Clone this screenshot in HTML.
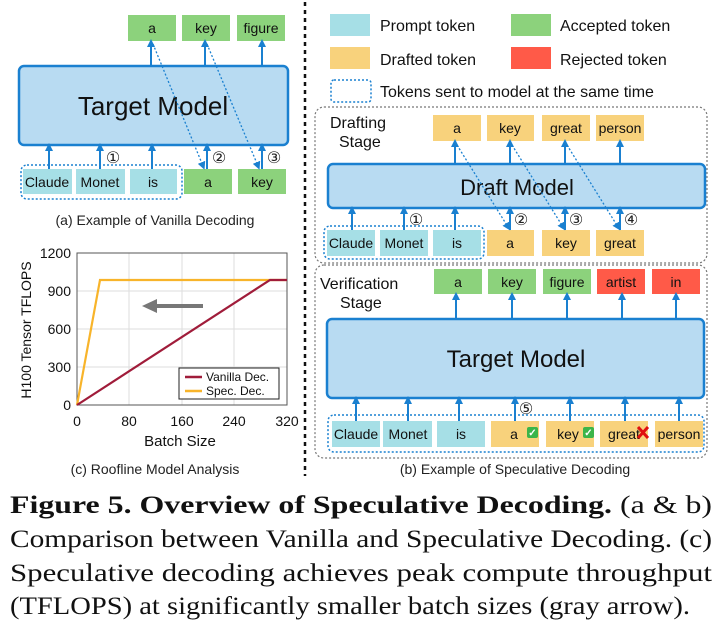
<!DOCTYPE html>
<html><head><meta charset="utf-8"><style>body{margin:0;background:#fff}svg{display:block}</style></head><body>
<svg width="727" height="633" viewBox="0 0 727 633" xmlns="http://www.w3.org/2000/svg" font-family="Liberation Sans, sans-serif">
<defs>
<marker id="ah" markerWidth="8" markerHeight="8" refX="4" refY="4" orient="auto" markerUnits="userSpaceOnUse"><path d="M0,0 L8,4 L0,8 Z" fill="#1a80d0"/></marker>
</defs>
<style>
.p{fill:#a6dfe6}.g{fill:#8cd27c}.d{fill:#f8d27c}.r{fill:#ff5a48}
.t{font-size:14px;text-anchor:middle;fill:#111}
.m{fill:#b8dbf2;stroke:#1a80d0;stroke-width:2.5}
.ar{stroke:#1a80d0;stroke-width:2;marker-end:url(#ah)}
.dg{stroke:#1a80d0;stroke-width:1.3;stroke-dasharray:2 2;fill:none;marker-end:url(#ah)}
.gr{fill:none;stroke:#1a80d0;stroke-width:1.5;stroke-dasharray:2 2}
.st{fill:none;stroke:#777;stroke-width:1.2;stroke-dasharray:2 2}
.c{font-size:16px;fill:#222;font-family:"DejaVu Sans",sans-serif}
</style>

<!-- ===== (a) Vanilla ===== -->
<rect class="g" x="128" y="15" width="48" height="26"/><text class="t" x="152" y="33">a</text>
<rect class="g" x="182" y="15" width="48" height="26"/><text class="t" x="206" y="33">key</text>
<rect class="g" x="237" y="15" width="48" height="26"/><text class="t" x="261" y="33">figure</text>
<rect class="m" x="19" y="66" width="269" height="79" rx="5"/>
<text x="153" y="115" font-size="26" text-anchor="middle" fill="#111">Target Model</text>
<rect class="gr" x="21" y="165" width="161" height="34" rx="6"/>
<rect class="p" x="23" y="169" width="49" height="25"/><text class="t" x="47" y="187">Claude</text>
<rect class="p" x="76" y="169" width="49" height="25"/><text class="t" x="100" y="187">Monet</text>
<rect class="p" x="130" y="169" width="47" height="25"/><text class="t" x="153" y="187">is</text>
<rect class="g" x="184" y="169" width="48" height="25"/><text class="t" x="208" y="187">a</text>
<rect class="g" x="238" y="169" width="48" height="25"/><text class="t" x="262" y="187">key</text>
<line class="ar" x1="49" y1="169" x2="49" y2="147"/>
<line class="ar" x1="100" y1="169" x2="100" y2="147"/>
<line class="ar" x1="152" y1="169" x2="152" y2="147"/>
<line class="ar" x1="207" y1="169" x2="207" y2="147"/>
<line class="ar" x1="262" y1="169" x2="262" y2="147"/>
<line class="ar" x1="151" y1="66" x2="151" y2="43"/>
<line class="ar" x1="205" y1="66" x2="205" y2="43"/>
<line class="ar" x1="262" y1="66" x2="262" y2="43"/>
<line class="dg" x1="153" y1="44" x2="203" y2="166"/>
<line class="dg" x1="207" y1="44" x2="258" y2="166"/>
<text class="c" x="113" y="163" text-anchor="middle">①</text>
<text class="c" x="219" y="163" text-anchor="middle">②</text>
<text class="c" x="274" y="163" text-anchor="middle">③</text>
<text x="155" y="225" font-size="14" text-anchor="middle" fill="#222">(a) Example of Vanilla Decoding</text>

<!-- divider -->
<line x1="305" y1="2" x2="305" y2="476" stroke="#111" stroke-width="2.5" stroke-dasharray="4 4"/>

<!-- legend -->
<rect class="p" x="330" y="14" width="40" height="22"/><text x="380" y="31" font-size="16" fill="#111">Prompt token</text>
<rect class="g" x="511" y="14" width="40" height="22"/><text x="560" y="31" font-size="16" fill="#111">Accepted token</text>
<rect class="d" x="330" y="47" width="40" height="22"/><text x="380" y="65" font-size="16" fill="#111">Drafted token</text>
<rect class="r" x="511" y="47" width="40" height="22"/><text x="560" y="65" font-size="16" fill="#111">Rejected token</text>
<rect class="gr" x="331" y="80" width="40" height="22" rx="3"/><text x="380" y="97" font-size="16" fill="#111">Tokens sent to model at the same time</text>

<!-- drafting stage -->
<rect class="st" x="315" y="107" width="392" height="156" rx="9"/>
<text x="330" y="128" font-size="16" fill="#111">Drafting</text>
<text x="339" y="147" font-size="16" fill="#111">Stage</text>
<rect class="d" x="433" y="115" width="48" height="26"/><text class="t" x="457" y="133">a</text>
<rect class="d" x="487" y="115" width="47" height="26"/><text class="t" x="510" y="133">key</text>
<rect class="d" x="542" y="115" width="48" height="26"/><text class="t" x="566" y="133">great</text>
<rect class="d" x="596" y="115" width="48" height="26"/><text class="t" x="620" y="133">person</text>
<rect class="m" x="328" y="164" width="377" height="44" rx="5"/>
<text x="517" y="195" font-size="22" text-anchor="middle" fill="#111">Draft Model</text>
<rect class="gr" x="324" y="226" width="160" height="33" rx="6"/>
<rect class="p" x="327" y="230" width="48" height="26"/><text class="t" x="351" y="248">Claude</text>
<rect class="p" x="380" y="230" width="48" height="26"/><text class="t" x="404" y="248">Monet</text>
<rect class="p" x="433" y="230" width="48" height="26"/><text class="t" x="457" y="248">is</text>
<rect class="d" x="487" y="230" width="47" height="26"/><text class="t" x="510" y="248">a</text>
<rect class="d" x="542" y="230" width="48" height="26"/><text class="t" x="566" y="248">key</text>
<rect class="d" x="596" y="230" width="48" height="26"/><text class="t" x="620" y="248">great</text>
<line class="ar" x1="352" y1="230" x2="352" y2="210"/>
<line class="ar" x1="404" y1="230" x2="404" y2="210"/>
<line class="ar" x1="455" y1="230" x2="455" y2="210"/>
<line class="ar" x1="510" y1="230" x2="510" y2="210"/>
<line class="ar" x1="565" y1="230" x2="565" y2="210"/>
<line class="ar" x1="620" y1="230" x2="620" y2="210"/>
<line class="ar" x1="455" y1="164" x2="455" y2="143"/>
<line class="ar" x1="510" y1="164" x2="510" y2="143"/>
<line class="ar" x1="565" y1="164" x2="565" y2="143"/>
<line class="ar" x1="620" y1="164" x2="620" y2="143"/>
<line class="dg" x1="457" y1="145" x2="508" y2="227"/>
<line class="dg" x1="512" y1="145" x2="563" y2="227"/>
<line class="dg" x1="567" y1="145" x2="618" y2="227"/>
<text class="c" x="416" y="225" text-anchor="middle">①</text>
<text class="c" x="521" y="225" text-anchor="middle">②</text>
<text class="c" x="576" y="225" text-anchor="middle">③</text>
<text class="c" x="631" y="225" text-anchor="middle">④</text>

<!-- verification stage -->
<rect class="st" x="315" y="265" width="392" height="193" rx="9"/>
<text x="320" y="289" font-size="16" fill="#111">Verification</text>
<text x="340" y="308" font-size="16" fill="#111">Stage</text>
<rect class="g" x="434" y="269" width="48" height="25"/><text class="t" x="458" y="287">a</text>
<rect class="g" x="488" y="269" width="48" height="25"/><text class="t" x="512" y="287">key</text>
<rect class="g" x="543" y="269" width="48" height="25"/><text class="t" x="567" y="287">figure</text>
<rect class="r" x="597" y="269" width="48" height="25"/><text class="t" x="621" y="287">artist</text>
<rect class="r" x="652" y="269" width="48" height="25"/><text class="t" x="676" y="287">in</text>
<rect class="m" x="327" y="319" width="377" height="79" rx="5"/>
<text x="516" y="367" font-size="24" text-anchor="middle" fill="#111">Target Model</text>
<rect class="gr" x="328" y="415" width="376" height="37" rx="6"/>
<rect class="p" x="332" y="421" width="48" height="26"/><text class="t" x="356" y="439">Claude</text>
<rect class="p" x="383" y="421" width="49" height="26"/><text class="t" x="408" y="439">Monet</text>
<rect class="p" x="437" y="421" width="48" height="26"/><text class="t" x="461" y="439">is</text>
<rect class="d" x="491" y="421" width="48" height="26"/><text class="t" x="514" y="439">a</text>
<rect class="d" x="546" y="421" width="48" height="26"/><text class="t" x="568" y="439">key</text>
<rect class="d" x="600" y="421" width="48" height="26"/><text class="t" x="624" y="439">great</text>
<rect class="d" x="655" y="421" width="48" height="26"/><text class="t" x="679" y="439">person</text>
<rect x="527" y="427" width="11" height="11" rx="2" fill="#3bb54a"/><text x="532.5" y="436" font-size="10" fill="#fff" text-anchor="middle" font-weight="bold">✓</text>
<rect x="583" y="427" width="11" height="11" rx="2" fill="#3bb54a"/><text x="588.5" y="436" font-size="10" fill="#fff" text-anchor="middle" font-weight="bold">✓</text>
<path d="M638,427 L648,438 M648,427 L638,438" stroke="#e01010" stroke-width="3"/>
<line class="ar" x1="356" y1="421" x2="356" y2="400"/>
<line class="ar" x1="408" y1="421" x2="408" y2="400"/>
<line class="ar" x1="459" y1="421" x2="459" y2="400"/>
<line class="ar" x1="515" y1="421" x2="515" y2="400"/>
<line class="ar" x1="570" y1="421" x2="570" y2="400"/>
<line class="ar" x1="625" y1="421" x2="625" y2="400"/>
<line class="ar" x1="679" y1="421" x2="679" y2="400"/>
<line class="ar" x1="456" y1="319" x2="456" y2="296"/>
<line class="ar" x1="512" y1="319" x2="512" y2="296"/>
<line class="ar" x1="567" y1="319" x2="567" y2="296"/>
<line class="ar" x1="622" y1="319" x2="622" y2="296"/>
<line class="ar" x1="676" y1="319" x2="676" y2="296"/>
<text class="c" x="526" y="414" text-anchor="middle">⑤</text>
<text x="515" y="474" font-size="14" text-anchor="middle" fill="#222">(b) Example of Speculative Decoding</text>

<!-- ===== (c) chart ===== -->
<g stroke="#ddd" stroke-width="1">
<line x1="77" y1="291" x2="287" y2="291"/><line x1="77" y1="329" x2="287" y2="329"/><line x1="77" y1="367" x2="287" y2="367"/>
<line x1="129" y1="253" x2="129" y2="405"/><line x1="182" y1="253" x2="182" y2="405"/><line x1="234" y1="253" x2="234" y2="405"/>
</g>
<rect x="77" y="253" width="210" height="152" fill="none" stroke="#555" stroke-width="1"/>
<polyline points="77,405 100,280 287,280" fill="none" stroke="#f8b42a" stroke-width="2.2"/>
<polyline points="77,405 270,280 287,280" fill="none" stroke="#a01c3a" stroke-width="2.2"/>
<line x1="203" y1="306" x2="155" y2="306" stroke="#777" stroke-width="4"/>
<path d="M142,306 L157,299 L157,313 Z" fill="#777"/>
<rect x="179" y="368" width="100" height="31" fill="#fff" stroke="#222" stroke-width="1"/>
<line x1="185" y1="377" x2="202" y2="377" stroke="#a01c3a" stroke-width="2.5"/>
<text x="206" y="381" font-size="12" fill="#111">Vanilla Dec.</text>
<line x1="185" y1="391" x2="202" y2="391" stroke="#f8b42a" stroke-width="2.5"/>
<text x="206" y="395" font-size="12" fill="#111">Spec. Dec.</text>
<g font-size="14" fill="#111" text-anchor="end">
<text x="71" y="258">1200</text><text x="71" y="296">900</text><text x="71" y="334">600</text><text x="71" y="372">300</text><text x="71" y="410">0</text>
</g>
<g font-size="14" fill="#111" text-anchor="middle">
<text x="77" y="426">0</text><text x="129" y="426">80</text><text x="182" y="426">160</text><text x="234" y="426">240</text><text x="287" y="426">320</text>
</g>
<text x="180" y="446" font-size="15" text-anchor="middle" fill="#111">Batch Size</text>
<text transform="translate(31,330) rotate(-90)" font-size="14" text-anchor="middle" fill="#111">H100 Tensor TFLOPS</text>
<text x="155" y="474" font-size="14" text-anchor="middle" fill="#222">(c) Roofline Model Analysis</text>

<!-- caption -->
<g font-family="Liberation Serif, serif" font-size="25" fill="#111">
<text x="10" y="513" textLength="702" lengthAdjust="spacingAndGlyphs"><tspan font-weight="bold">Figure 5. Overview of Speculative Decoding.</tspan> (a &amp; b)</text>
<text x="10" y="547" textLength="702" lengthAdjust="spacingAndGlyphs">Comparison between Vanilla and Speculative Decoding. (c)</text>
<text x="10" y="581" textLength="702" lengthAdjust="spacingAndGlyphs">Speculative decoding achieves peak compute throughput</text>
<text x="10" y="614" textLength="680" lengthAdjust="spacingAndGlyphs">(TFLOPS) at significantly smaller batch sizes (gray arrow).</text>
</g>
</svg>
</body></html>
